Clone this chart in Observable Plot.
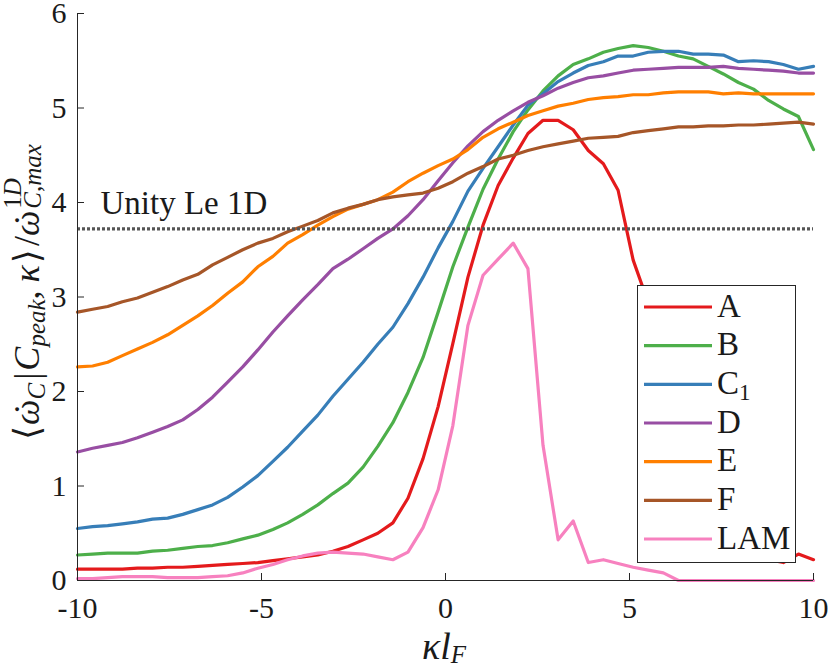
<!DOCTYPE html>
<html><head><meta charset="utf-8">
<script src="https://cdn.jsdelivr.net/npm/d3@7"></script>
<script src="https://cdn.jsdelivr.net/npm/@observablehq/plot@0.6"></script>
<style>
html,body{margin:0;padding:0;background:#fff;}
#wrap{position:relative;width:830px;height:668px;}
</style></head><body><div id="wrap"></div>
<script>
// kappa * l_F grid
const kappa = [-10.00,-9.59,-9.18,-8.78,-8.37,-7.96,-7.55,-7.14,-6.73,-6.33,
  -5.92,-5.51,-5.10,-4.69,-4.29,-3.88,-3.47,-3.06,-2.65,-2.24,
  -1.84,-1.43,-1.02,-0.61,-0.20,0.20,0.61,1.02,1.43,1.84,
  2.24,2.65,3.06,3.47,3.88,4.29,4.69,5.10,5.51,5.92,
  6.33,6.73,7.14,7.55,7.96,8.37,8.78,9.18,9.59,10.00];

const seriesA = [0.12,0.12,0.12,0.12,0.13,0.13,0.14,0.14,0.15,0.16,0.17,0.18,0.19,0.21,0.23,0.25,0.27,0.31,0.36,0.43,0.50,0.61,0.87,1.29,1.84,2.51,3.21,3.76,4.18,4.47,4.73,4.87,4.87,4.77,4.55,4.41,4.13,3.39,2.94,2.20,1.50,1.00,0.70,0.50,0.36,0.27,0.22,0.19,0.28,0.22];
const seriesB = [0.27,0.28,0.29,0.29,0.29,0.31,0.32,0.34,0.36,0.37,0.40,0.44,0.48,0.54,0.61,0.70,0.80,0.92,1.03,1.20,1.42,1.67,1.99,2.36,2.84,3.32,3.74,4.14,4.46,4.75,4.98,5.18,5.34,5.46,5.52,5.59,5.63,5.66,5.64,5.60,5.55,5.52,5.44,5.36,5.27,5.20,5.08,4.99,4.91,4.56];
const seriesC1 = [0.55,0.57,0.58,0.60,0.62,0.65,0.66,0.70,0.75,0.80,0.88,0.99,1.11,1.26,1.41,1.58,1.75,1.95,2.13,2.31,2.50,2.68,2.93,3.21,3.52,3.80,4.12,4.36,4.59,4.82,5.03,5.15,5.28,5.37,5.45,5.49,5.55,5.55,5.59,5.60,5.60,5.57,5.57,5.56,5.49,5.50,5.49,5.46,5.41,5.44];
const seriesD = [1.36,1.40,1.43,1.46,1.51,1.57,1.63,1.70,1.81,1.94,2.10,2.26,2.44,2.63,2.80,2.97,3.13,3.30,3.40,3.51,3.62,3.72,3.86,4.03,4.23,4.42,4.60,4.75,4.87,4.97,5.06,5.13,5.21,5.27,5.32,5.34,5.37,5.40,5.41,5.42,5.43,5.43,5.43,5.44,5.42,5.41,5.40,5.39,5.37,5.37];
const seriesE = [2.26,2.27,2.31,2.38,2.45,2.52,2.60,2.70,2.80,2.91,3.04,3.16,3.32,3.43,3.57,3.66,3.76,3.85,3.93,3.98,4.03,4.11,4.22,4.31,4.39,4.46,4.56,4.69,4.78,4.85,4.92,4.97,5.02,5.05,5.09,5.11,5.12,5.14,5.14,5.16,5.17,5.17,5.17,5.15,5.16,5.15,5.15,5.15,5.15,5.15];
const seriesF = [2.84,2.87,2.90,2.95,2.99,3.05,3.11,3.18,3.24,3.34,3.42,3.50,3.57,3.62,3.69,3.75,3.81,3.89,3.94,3.98,4.03,4.06,4.08,4.10,4.15,4.22,4.31,4.38,4.46,4.50,4.55,4.59,4.62,4.65,4.68,4.69,4.70,4.74,4.76,4.78,4.80,4.80,4.81,4.81,4.82,4.82,4.83,4.84,4.85,4.83];
const seriesLAM = [0.02,0.02,0.03,0.04,0.04,0.04,0.03,0.03,0.03,0.04,0.05,0.08,0.13,0.17,0.22,0.26,0.29,0.30,0.29,0.28,0.25,0.22,0.30,0.56,0.96,1.64,2.70,3.23,3.40,3.57,3.30,1.43,0.43,0.63,0.19,0.22,0.18,0.14,0.11,0.08,0,0,0,0,0,0,0,0,0,0];

const seriesNames = ["A","B","C1","D","E","F","LAM"];
const seriesColors = ["#e41a1c","#4daf4a","#377eb8","#984ea3","#ff7f00","#a65628","#f781bf"];
const seriesValues = [seriesA, seriesB, seriesC1, seriesD, seriesE, seriesF, seriesLAM];

const unityLe = 3.72;
const unityLabel = "Unity Le 1D";
const xTicks = [-10,-5,0,5,10];
const yTicks = [0,1,2,3,4,5,6];

const table = seriesNames.flatMap((name, i) =>
  kappa.map((k, j) => ({series: name, k, v: seriesValues[i][j]})));

const FONT = "'Liberation Serif', 'Times New Roman', 'DejaVu Serif', serif";
const axisColor = "#262626";
const textColor = "#1a1a1a";

const chart = Plot.plot({
  width: 830, height: 668,
  marginLeft: 77, marginRight: 17, marginTop: 13, marginBottom: 88,
  x: {domain: [-10, 10], label: null},
  y: {domain: [0, 6], label: null},
  color: {domain: seriesNames, range: seriesColors},
  style: {fontFamily: FONT, background: "white", color: textColor},
  marks: [
    Plot.line(table, {x: "k", y: "v", z: "series", stroke: "series", strokeWidth: 3.2, strokeLinejoin: "round"}),
    Plot.ruleY([unityLe], {x1: -10, x2: 10, stroke: "#555555", strokeWidth: 3.2, strokeDasharray: "3,2", strokeLinecap: "butt"}),
    Plot.text([unityLabel], {x: -10, y: unityLe, text: d => d, textAnchor: "start", dx: 23, dy: -26, fontSize: 33, fill: textColor}),
    Plot.tickX(xTicks, {x: d => d, insetTop: 560, stroke: axisColor, strokeWidth: 1}),
    Plot.tickY(yTicks, {y: d => d, insetRight: 729, stroke: axisColor, strokeWidth: 1}),
    Plot.axisX(xTicks, {tickSize: 0, tickPadding: 16, tickFormat: d => String(d), fontSize: 30, fill: textColor}),
    Plot.axisY(yTicks, {tickSize: 0, tickPadding: 11, tickFormat: d => String(d), fontSize: 30, fill: textColor}),
    Plot.ruleX([-10], {stroke: axisColor, strokeWidth: 1}),
    Plot.ruleY([0], {stroke: axisColor, strokeWidth: 1})
  ]
});

const wrap = document.getElementById("wrap");
wrap.appendChild(chart);
const svg = d3.select(chart);

// legend (lines + labels) inside the plot area
const lg = svg.append("g").attr("text-anchor", "start").attr("font-family", FONT);
lg.append("rect").attr("x", 637.5).attr("y", 285.5).attr("width", 158).attr("height", 277)
  .attr("fill", "white").attr("stroke", axisColor).attr("stroke-width", 1);
seriesNames.forEach((name, i) => {
  const yy = 307 + i * 38.67;
  lg.append("line").attr("x1", 644).attr("x2", 712).attr("y1", yy).attr("y2", yy)
    .attr("stroke", seriesColors[i]).attr("stroke-width", 3.2);
  const t = lg.append("text").attr("x", 717).attr("y", yy + 9.5)
    .attr("font-size", 33).attr("fill", textColor);
  if (name === "C1") {
    t.append("tspan").text("C");
    t.append("tspan").attr("font-size", 23).attr("dy", 6).text("1");
  } else {
    t.text(name);
  }
});

// y axis title (rotated, math-style)
const yl = svg.append("text").attr("transform", "translate(39,440) rotate(-90)")
  .attr("text-anchor", "start").attr("font-family", FONT).attr("font-size", 36).attr("fill", textColor);
const piece = (s, italic, opts = {}) => {
  const t = yl.append("tspan").text(s);
  if (italic) t.attr("font-style", "italic");
  Object.entries(opts).forEach(([k, v]) => t.attr(k, v));
  return t;
};
// omega with a dot accent placed over it; returns the dx needed to continue after it
const omegaDot = (dx0) => {
  const om = piece("ω", true, {dx: dx0});
  const w = om.node().getComputedTextLength();
  const dot = piece("˙", false, {});
  const dw = dot.node().getComputedTextLength();
  dot.attr("dx", -w / 2 - dw / 2 + 3);
  return w / 2 - dw / 2 - 3;
};
piece("⟨", false);
let back = omegaDot(1);
piece("C", true, {"font-size": 25, dy: 6, dx: back});
piece("|", false, {dy: -6, dx: 3});
piece("C", true, {dx: 2});
piece("peak", true, {"font-size": 25, dy: 6});
piece(",", false, {dy: -6});
piece("κ", true, {dx: 8});
piece("⟩", false, {dx: 2});
piece("/", false, {dx: 3});
back = omegaDot(0);
const sup = yl.append("tspan").attr("font-size", 25).attr("dy", -18).attr("dx", back + 2);
sup.append("tspan").text("1");
sup.append("tspan").attr("font-style", "italic").text("D");
const supW = sup.node().getComputedTextLength();
const sub = yl.append("tspan").attr("font-size", 25).attr("dy", 20).attr("dx", -supW);
sub.append("tspan").attr("font-style", "italic").text("C");
sub.append("tspan").text(",");
sub.append("tspan").attr("font-style", "italic").text("max");

// x axis title
const xl = svg.append("text").attr("x", 422).attr("y", 659).attr("text-anchor", "start")
  .attr("font-family", FONT).attr("font-size", 38).attr("fill", textColor);
xl.append("tspan").attr("font-style", "italic").text("κl");
xl.append("tspan").attr("font-style", "italic").attr("font-size", 25).attr("dy", 4).text("F");
</script>
</body></html>
